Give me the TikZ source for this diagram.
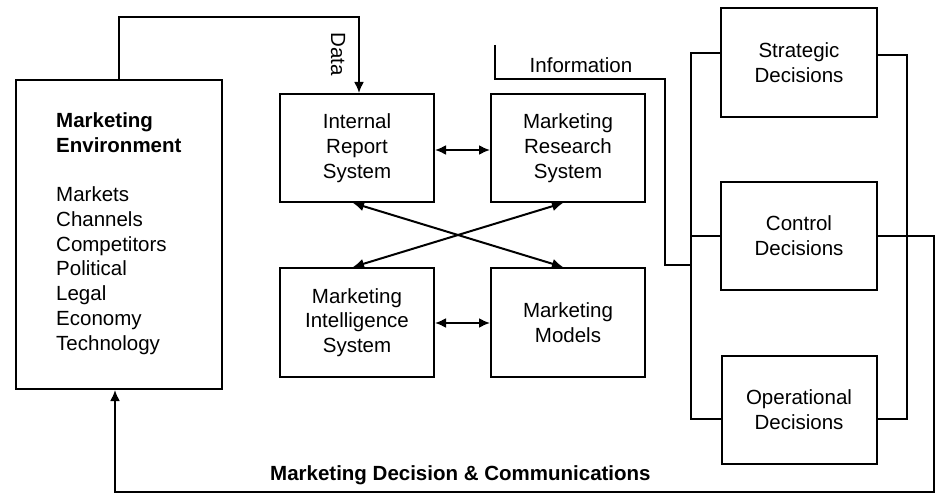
\documentclass[tikz,border=0pt]{standalone}
\usepackage{fontspec}
\setmainfont{Liberation Sans}
\usetikzlibrary{arrows.meta}
\begin{document}
\begin{tikzpicture}[x=1pt,y=-1pt,
  every node/.style={font=\fontsize{20.5}{24.75}\selectfont, inner sep=0pt},
  box/.style={draw, line width=2pt, align=center, minimum width=154pt, minimum height=108pt},
  wire/.style={line width=2pt},
  arr/.style={wire, -{Latex[length=11pt,width=10pt]}},
  darr/.style={wire, {Latex[length=11pt,width=10pt]}-{Latex[length=11pt,width=10pt]}}]
\useasboundingbox (0,0) rectangle (937,494);
% boxes
\node[box, minimum width=206pt, minimum height=309pt] (env) at (119,234.5) {};
\node[anchor=west, align=left] (envtext) at (56,233.5)
  {\textbf{Marketing}\\\textbf{Environment}\\[24.75pt]Markets\\Channels\\Competitors\\Political\\Legal\\Economy\\Technology};
\node[box] (irs) at (357,148) {Internal\\Report\\System};
\node[box] (mrs) at (568,148) {Marketing\\Research\\System};
\node[box, minimum height=109pt] (mis) at (357,322.5) {Marketing\\Intelligence\\System};
\node[box, minimum height=109pt] (mm) at (568,322.5) {Marketing\\Models};
\node[box, minimum width=156pt, minimum height=109pt] (sd) at (799,62.5) {Strategic\\Decisions};
\node[box, minimum width=156pt] (cd) at (799,236) {Control\\Decisions};
\node[box, minimum width=155pt] (od) at (799,410) {Operational\\Decisions};
% labels
\node[rotate=-90] (data) at (338,54) {Data};
\node (info) at (581,65) {Information};
\node[anchor=west, font=\fontsize{20.5}{24.75}\selectfont\bfseries] (mdc) at (270,475) {Marketing Decision \& Communications};
% coordinates
\coordinate (infotop) at (495,45);
\coordinate (botr) at (934,492);
% connectors
\draw[arr] (env.north) -- ++(0,-62) -| ([xshift=2pt]irs.north);
\draw[darr] (irs.east |- 0,150) -- (mrs.west |- 0,150);
\draw[darr] (mis.east |- 0,323) -- (mm.west |- 0,323);
\draw[darr] ([xshift=-4pt]irs.south) -- ([xshift=-5pt]mm.north);
\draw[darr] ([xshift=-5pt]mrs.south) -- ([xshift=-4pt]mis.north);
\draw[wire] (infotop) -- ++(0,34) -- ++(170,0) -- ++(0,186) -- ++(27,0);
\draw[wire] ([yshift=9pt]sd.west) -- ++(-29,0) |- ([yshift=-9pt]od.west);
\draw[wire] ([yshift=7pt]sd.east) -- ++(29,0) |- ([yshift=-9pt]od.east);
\draw[wire] (cd.west) -- ++(-29,0);
\draw[arr] (cd.east) -| (botr) -| ([xshift=-4pt]env.south);
\end{tikzpicture}
\end{document}
